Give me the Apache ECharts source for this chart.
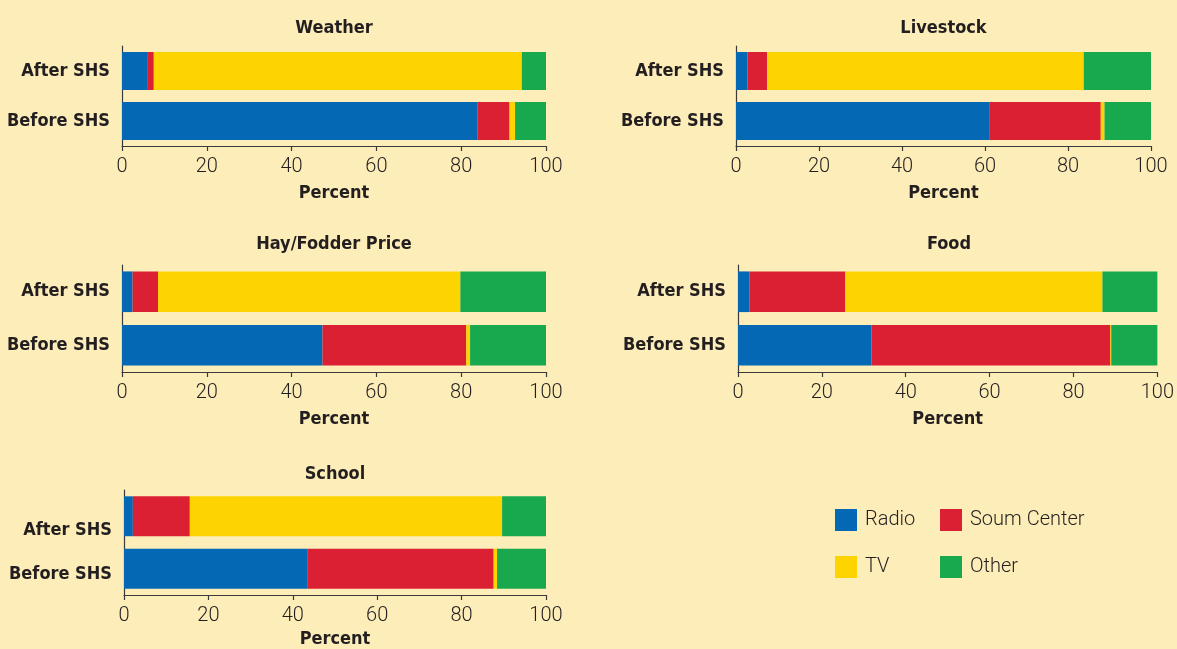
<!DOCTYPE html>
<html>
<head>
<meta charset="utf-8">
<title>Information sources before and after SHS</title>
<script src="https://cdn.jsdelivr.net/npm/echarts@6/dist/echarts.min.js"></script>
<style>
	html, body { margin: 0; padding: 0; background: #fdedb9; }
	#chart { width: 1177px; height: 649px; }
</style>
</head>
<body>
<div id="chart"></div>
<script>
	// data (percent), order of each pair: [Before SHS, After SHS]
	const panels = ['Weather', 'Livestock', 'Hay/Fodder Price', 'Food', 'School']
	const categories = ['Before SHS', 'After SHS']
	const radio = [[83.9, 6.1], [61.0, 2.8], [47.3, 2.5], [31.8, 2.7], [43.4, 2.1]]
	const soumCenter = [[7.5, 1.4], [26.9, 4.7], [33.9, 6.0], [57.0, 22.9], [44.2, 13.5]]
	const tv = [[1.3, 86.8], [0.9, 76.3], [0.9, 71.3], [0.2, 61.3], [0.8, 74.0]]
	const other = [[7.3, 5.7], [11.2, 16.2], [17.9, 20.2], [11.0, 13.1], [11.6, 10.4]]
	const xTicks = [0, 20, 40, 60, 80, 100]

	const sources = [
		{ name: 'Radio', values: radio, color: '#0468b4' },
		{ name: 'Soum Center', values: soumCenter, color: '#db2033' },
		{ name: 'TV', values: tv, color: '#fdd400' },
		{ name: 'Other', values: other, color: '#18a84d' }
	]

	// panel boxes
	const boxes = [
		{ left: 122, top: 46, width: 424, height: 100, titleTop: 19 },
		{ left: 736, top: 46, width: 415, height: 100, titleTop: 19 },
		{ left: 122, top: 265, width: 424, height: 107, titleTop: 235 },
		{ left: 738, top: 265, width: 422, height: 107, titleTop: 235 },
		{ left: 124, top: 490, width: 422, height: 106, titleTop: 465 }
	]

	const boldFont = "'DejaVu Sans Condensed', 'Liberation Sans Narrow', sans-serif"
	const lightFont = 'Roboto, sans-serif'
	const ink = '#231f20'
	const axisColor = '#3b3b3b'

	const chart = echarts.init(document.getElementById('chart'), null, { renderer: 'canvas' })

	const title = boxes.map((b, i) => ({
		text: panels[i],
		left: b.left + b.width / 2,
		top: b.titleTop,
		padding: 0,
		textAlign: 'center',
		textStyle: { fontFamily: boldFont, fontWeight: 'bold', fontSize: 18, color: ink }
	}))

	const grid = boxes.map(b => ({ left: b.left, top: b.top, width: b.width, height: b.height }))

	const xAxis = boxes.map((b, i) => ({
		type: 'value',
		gridIndex: i,
		min: xTicks[0],
		max: xTicks[xTicks.length - 1],
		interval: xTicks[1] - xTicks[0],
		name: 'Percent',
		nameLocation: 'middle',
		nameGap: i === 4 ? 35 : 38,
		nameTextStyle: { fontFamily: boldFont, fontWeight: 'bold', fontSize: 18, color: ink },
		axisLine: { show: true, lineStyle: { color: axisColor, width: 1.2 } },
		axisTick: { show: true, length: 5, lineStyle: { color: axisColor, width: 1.2 } },
		axisLabel: { fontFamily: lightFont, fontWeight: 300, fontSize: 20, color: ink, margin: 11 },
		splitLine: { show: false }
	}))

	const labelStyle = { fontFamily: boldFont, fontWeight: 'bold', fontSize: 18, color: ink }

	const yAxis = boxes.map((b, i) => ({
		type: 'category',
		gridIndex: i,
		data: categories,
		axisLine: { show: true, lineStyle: { color: axisColor, width: 1.2 } },
		axisTick: { show: false },
		axisLabel: i === 4
			? {
				margin: 12,
				// the School labels sit a little below their bars in the original
				formatter: v => (v === 'After SHS' ? '{a|' + v + '}' : '{b|' + v + '}'),
				rich: {
					a: Object.assign({ padding: [28, 0, 0, 0] }, labelStyle),
					b: Object.assign({ padding: [11, 0, 0, 0] }, labelStyle)
				}
			}
			: Object.assign({ margin: 12 }, labelStyle)
	}))

	const series = []
	boxes.forEach((b, i) => {
		sources.forEach(s => {
			series.push({
				name: s.name,
				type: 'bar',
				stack: 'panel' + i,
				xAxisIndex: i,
				yAxisIndex: i,
				barWidth: '76%',
				itemStyle: { color: s.color },
				emphasis: { disabled: true },
				data: s.values[i]
			})
		})
	})

	const legendBase = {
		orient: 'vertical',
		icon: 'rect',
		padding: 0,
		itemWidth: 22,
		itemHeight: 22,
		itemGap: 25,
		top: 509,
		textStyle: { fontFamily: lightFont, fontWeight: 300, fontSize: 20, color: ink, padding: [0, 0, 0, 3] },
		selectedMode: false
	}

	const option = {
		backgroundColor: '#fdedb9',
		animation: false,
		title: title,
		legend: [
			Object.assign({}, legendBase, { left: 835, data: ['Radio', 'TV'] }),
			Object.assign({}, legendBase, { left: 940, data: ['Soum Center', 'Other'] })
		],
		grid: grid,
		xAxis: xAxis,
		yAxis: yAxis,
		series: series
	}

	chart.setOption(option)
	window.onresize = () => {
		chart.resize()
	}
</script>
</body>
</html>
